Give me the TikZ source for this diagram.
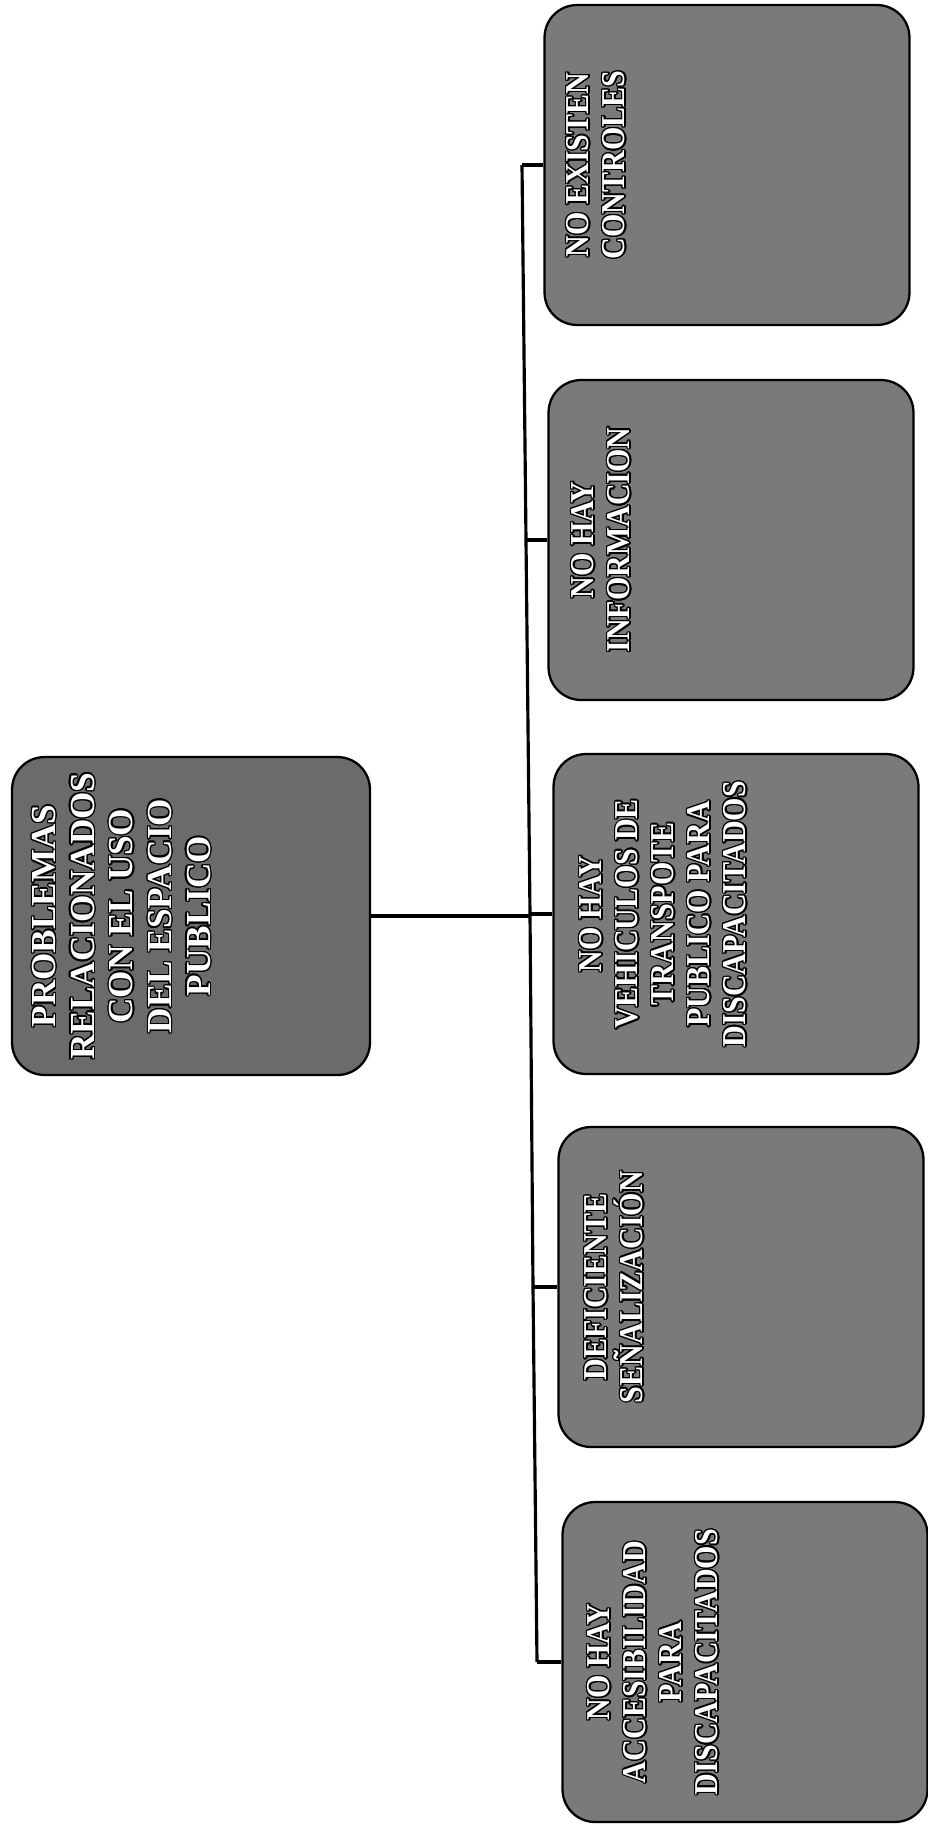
\documentclass[tikz,border=0pt]{standalone}
\usepackage{fontspec}
\usepackage{contour}
\newfontfamily\boxfont{Liberation Serif}[FakeStretch=0.9]
\newfontfamily\rootfont{Liberation Serif}
\contourlength{0.75pt}
\newcommand{\outl}[1]{\contour{black}{#1}}
\tikzset{
  caja/.style={draw=black, line width=1.3pt, fill=black!52, rounded corners=0.65cm,
    minimum width=7.3cm, minimum height=6.4cm, inner sep=0pt},
  raiz/.style={caja, fill=black!58, minimum width=7.16cm, minimum height=6.36cm},
  rotulo/.style={rotate=90, anchor=north, inner sep=0pt, align=center, text=white,
    font=\boxfont\bfseries\fontsize{19}{20.5}\selectfont},
  rotuloraiz/.style={rotulo, font=\rootfont\bfseries\fontsize{20}{22}\selectfont},
  linea/.style={line width=1.8pt}
}
\begin{document}
\begin{tikzpicture}[x=0.02cm, y=-0.02cm]
  \useasboundingbox (0,0) rectangle (928,1829);
  \node[raiz] (problemas) at (191,916) {};
  \node[caja] (controles) at (727,165) {};
  \node[caja] (informacion) at (731,540) {};
  \node[caja] (vehiculos) at (736,914) {};
  \node[caja] (senalizacion) at (741,1287) {};
  \node[caja] (accesibilidad) at (745,1662) {};

  \node[rotuloraiz] (tproblemas) at ([xshift=0.42cm]problemas.west)
    {\outl{PROBLEMAS}\\\outl{RELACIONADOS}\\\outl{CON EL USO}\\\outl{DEL ESPACIO}\\\outl{PUBLICO}};
  \node[rotulo] (tcontroles) at ([xshift=0.46cm]controles.west)
    {\outl{NO EXISTEN}\\\outl{CONTROLES}};
  \node[rotulo] (tinformacion) at ([xshift=0.48cm]informacion.west)
    {\outl{NO HAY}\\\outl{INFORMACION}};
  \node[rotulo] (tvehiculos) at ([xshift=0.54cm]vehiculos.west)
    {\outl{NO HAY}\\\outl{VEHICULOS DE}\\\outl{TRANSPOTE}\\\outl{PUBLICO PARA}\\\outl{DISCAPACITADOS}};
  \node[rotulo] (tsenalizacion) at ([xshift=0.54cm]senalizacion.west)
    {\outl{DEFICIENTE}\\\outl{SEÑALIZACIÓN}};
  \node[rotulo] (taccesibilidad) at ([xshift=0.52cm]accesibilidad.west)
    {\outl{NO HAY}\\\outl{ACCESIBILIDAD}\\\outl{PARA}\\\outl{DISCAPACITADOS}};

  \coordinate (e1) at (522,165);
  \coordinate (e2) at (526,540);
  \coordinate (e3) at (530,914);
  \coordinate (e4) at (533,1287);
  \coordinate (e5) at (537,1662);
  \draw[linea] (problemas.east) -- (problemas.east -| e3);
  \draw[linea] (e1) -- (e2) -- (e3) -- (e4) -- (e5);
  \draw[linea] (e1) -- (controles.west);
  \draw[linea] (e2) -- (informacion.west);
  \draw[linea] (e3) -- (vehiculos.west);
  \draw[linea] (e4) -- (senalizacion.west);
  \draw[linea] (e5) -- (accesibilidad.west);
\end{tikzpicture}
\end{document}
